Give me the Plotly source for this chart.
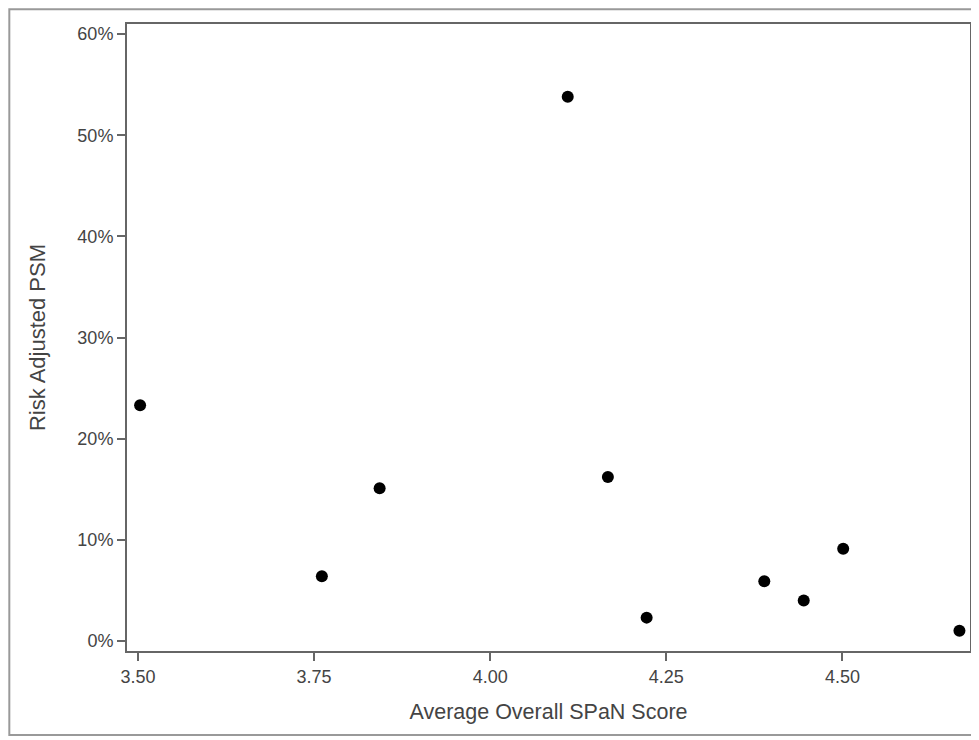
import plotly.graph_objects as go

# Data
span_score = [3.503, 3.761, 3.843, 4.110, 4.167, 4.222, 4.389, 4.445, 4.501, 4.666]
psm_pct = [23.3, 6.4, 15.1, 53.8, 16.2, 2.3, 5.9, 4.0, 9.1, 1.0]

x_tickvals = [3.50, 3.75, 4.00, 4.25, 4.50]
x_ticktext = ["3.50", "3.75", "4.00", "4.25", "4.50"]
y_tickvals = [0, 10, 20, 30, 40, 50, 60]
y_ticktext = ["0%", "10%", "20%", "30%", "40%", "50%", "60%"]

FONT = "Liberation Sans, Arial, sans-serif"
TXT = "#444444"
AX = "#666666"

fig = go.Figure(
    go.Scatter(
        x=span_score,
        y=psm_pct,
        mode="markers",
        marker=dict(color="black", size=12),
        hoverinfo="x+y",
    )
)

fig.update_layout(
    width=971,
    height=732,
    margin=dict(l=119, r=7, t=16, b=89),
    paper_bgcolor="white",
    plot_bgcolor="white",
    showlegend=False,
    font=dict(family=FONT, color=TXT, size=18),
    shapes=[
        dict(
            type="rect",
            xref="paper",
            yref="paper",
            x0=-0.1396,
            x1=1.05,
            y0=-0.134,
            y1=1.0235,
            line=dict(color="#999999", width=2),
            fillcolor="rgba(0,0,0,0)",
            layer="below",
        )
    ],
)

fig.update_xaxes(
    range=[3.4844, 4.681],
    tickvals=x_tickvals,
    ticktext=x_ticktext,
    ticks="outside",
    ticklen=8,
    tickwidth=1.5,
    tickcolor=AX,
    showline=True,
    linecolor=AX,
    linewidth=2,
    mirror=True,
    showgrid=False,
    zeroline=False,
    tickfont=dict(family=FONT, size=18, color=TXT),
    title=dict(
        text="Average Overall SPaN Score",
        font=dict(family=FONT, size=21.5, color=TXT),
        standoff=18,
    ),
)

fig.update_yaxes(
    range=[-1.0, 61.0],
    tickvals=y_tickvals,
    ticktext=y_ticktext,
    ticks="outside",
    ticklen=8,
    tickwidth=1.5,
    tickcolor=AX,
    showline=True,
    linecolor=AX,
    linewidth=2,
    mirror=True,
    showgrid=False,
    zeroline=False,
    tickfont=dict(family=FONT, size=18, color=TXT),
    title=dict(
        text="Risk Adjusted PSM",
        font=dict(family=FONT, size=22, color=TXT),
        standoff=26,
    ),
)

fig.write_html("out.html")
